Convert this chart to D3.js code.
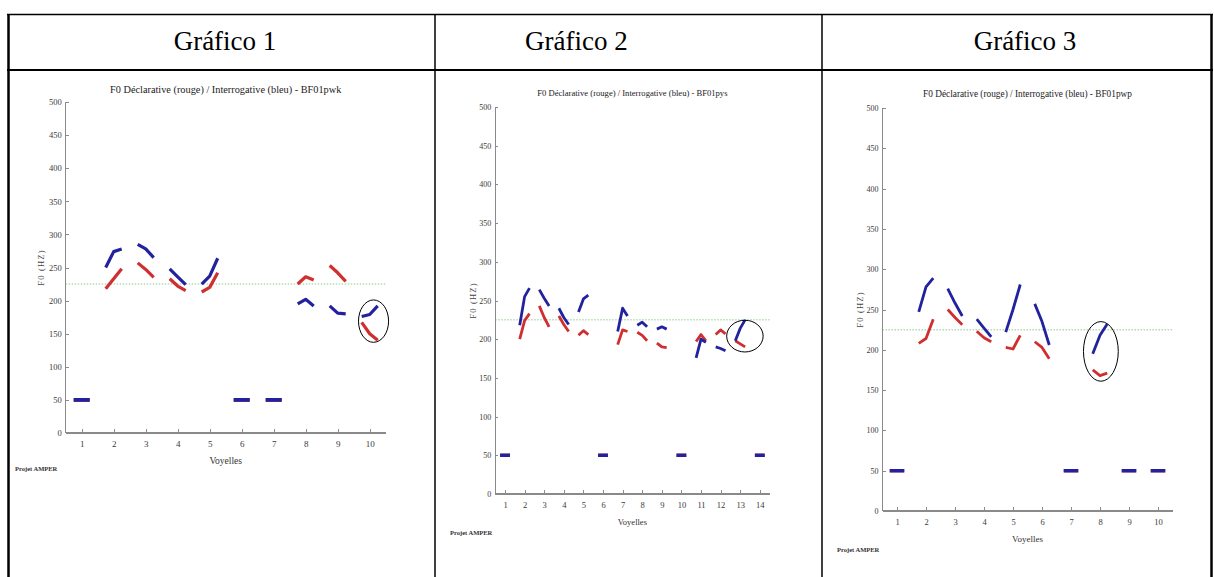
<!DOCTYPE html>
<html lang="fr">
<head>
<meta charset="utf-8">
<title>F0 Déclarative / Interrogative</title>
<script src="https://cdn.jsdelivr.net/npm/d3@7"></script>
<style>
  body { margin: 0; background: #fff; }
  svg text { font-family: "Liberation Serif", "Times New Roman", Times, "DejaVu Serif", serif; }
  .axis path, .axis line { stroke: #8a8a8a; shape-rendering: crispEdges; }
  .axis text { fill: #3a3a3a; }
</style>
</head>
<body>
<script>
var entetes = ["Gráfico 1", "Gráfico 2", "Gráfico 3"];
var titres = ["F0 Déclarative (rouge) / Interrogative (bleu) - BF01pwk",
              "F0 Déclarative (rouge) / Interrogative (bleu) - BF01pys",
              "F0 Déclarative (rouge) / Interrogative (bleu) - BF01pwp"];
var yTicks = [0, 50, 100, 150, 200, 250, 300, 350, 400, 450, 500];
var reference = 225;

var voyelles1 = [1, 2, 3, 4, 5, 6, 7, 8, 9, 10];
var rouge1 = [[50,50,50],[218,233,248],[257,247,235],[233,222,215],[213,220,242],
              [50,50,50],[50,50,50],[225,236,231],[253,242,229],[167,150,140]];
var bleu1  = [[50,50,50],[250,274,278],[285,278,265],[248,236,224],[225,237,264],
              [50,50,50],[50,50,50],[195,202,192],[192,181,180],[176,179,192]];
var cercle1 = [10.12, 169, 0.47, 32];

var voyelles2 = [1, 2, 3, 4, 5, 6, 7, 8, 9, 10, 11, 12, 13, 14];
var rouge2 = [[50,50,50],[200,224,233],[243,228,216],[230,219,210],[205,211,206],
              [50,50,50],[193,212,210],[209,205,198],[195,190,189],[50,50,50],
              [197,206,198],[206,212,207],[198,194,190],[50,50,50]];
var bleu2  = [[50,50,50],[218,255,266],[264,253,243],[240,228,219],[235,252,257],
              [50,50,50],[210,240,230],[218,222,216],[213,216,213],[50,50,50],
              [176,200,196],[190,188,185],[198,214,225],[50,50,50]];
var cercle2 = [13.24, 204, 0.93, 20.5];

var voyelles3 = [1, 2, 3, 4, 5, 6, 7, 8, 9, 10];
var rouge3 = [[50,50,50],[208,214,238],[250,240,231],[223,215,210],[203,201,218],
              [210,203,189],[50,50,50],[175,168,171],[50,50,50],[50,50,50]];
var bleu3  = [[50,50,50],[247,278,289],[276,258,242],[238,227,216],[222,250,281],
              [257,235,206],[50,50,50],[195,218,232],[50,50,50],[50,50,50]];
var cercle3 = [8.03, 198, 0.6, 37];

var offsets = [-0.25, 0, 0.25];

var w = 1214, h = 577;
var svg = d3.select("body").append("svg").attr("width", w).attr("height", h);

// tableau
var tab = svg.append("g").attr("stroke", "#000").attr("fill", "none");
tab.append("line").attr("x1", 7).attr("x2", 1213).attr("y1", 14.5).attr("y2", 14.5).attr("stroke-width", 1.5);
tab.append("line").attr("x1", 7).attr("x2", 1213).attr("y1", 70).attr("y2", 70).attr("stroke-width", 2);
[8.5, 435, 822, 1211.5].forEach(function(x, i) {
  tab.append("line").attr("x1", x).attr("x2", x).attr("y1", 14).attr("y2", h)
     .attr("stroke-width", (i == 0 || i == 3) ? 2.5 : 1.5);
});
var headX = [225, 525, 1025], headAnchor = ["middle", "start", "middle"];
entetes.forEach(function(t, i) {
  svg.append("text").attr("x", headX[i]).attr("y", 50).attr("text-anchor", headAnchor[i])
     .attr("font-size", 27).attr("fill", "#000").text(t);
});

var cfgs = [
  {x0: 65.7, x1: 385.7, yTop: 102, yBot: 433, title: 10.3, titleY: 93, tick: 8.5, xlab: 9.5, xlabY: 464,
   ylabX: 44, amperX: 15, amperY: 471, lw: 3.2, voy: voyelles1, rouge: rouge1, bleu: bleu1, cercle: cercle1},
  {x0: 495.2, x1: 769.6, yTop: 107, yBot: 494, title: 8.6, titleY: 96, tick: 8, xlab: 8.5, xlabY: 525,
   ylabX: 476, amperX: 450, amperY: 535, lw: 2.8, voy: voyelles2, rouge: rouge2, bleu: bleu2, cercle: cercle2},
  {x0: 882.5, x1: 1172.5, yTop: 108, yBot: 511, title: 9.3, titleY: 97, tick: 8, xlab: 9, xlabY: 542,
   ylabX: 863, amperX: 837, amperY: 552, lw: 2.8, voy: voyelles3, rouge: rouge3, bleu: bleu3, cercle: cercle3}
];

cfgs.forEach(function(c, k) {
  var n = c.voy.length;
  var xScale = d3.scaleLinear().domain([0.5, n + 0.5]).range([c.x0, c.x1]);
  var yScale = d3.scaleLinear().domain([0, 500]).range([c.yBot, c.yTop]);
  var g = svg.append("g");

  g.append("text").attr("x", (c.x0 + c.x1) / 2).attr("y", c.titleY).attr("text-anchor", "middle")
   .attr("font-size", c.title).attr("fill", "#222").text(titres[k]);

  // ligne de référence
  g.append("line").attr("x1", xScale(0.5)).attr("x2", xScale(n + 0.5))
   .attr("y1", yScale(reference)).attr("y2", yScale(reference))
   .attr("stroke", "#b5dcb5").attr("stroke-width", 1.5).attr("stroke-dasharray", "1.5,1.5");

  var yAxis = d3.axisLeft(yScale).tickValues(yTicks).tickSize(-3).tickPadding(4).tickFormat(d3.format("d"));
  var gy = g.append("g").attr("class", "axis").attr("transform", "translate(" + c.x0 + ",0)").call(yAxis)
   .attr("font-family", null);
  gy.select(".domain").attr("d", "M0," + c.yBot + "V" + c.yTop);
  gy.selectAll("text").attr("font-size", c.tick);

  var xAxis = d3.axisBottom(xScale).tickValues(c.voy).tickSize(-4).tickPadding(8);
  var gx = g.append("g").attr("class", "axis").attr("transform", "translate(0," + c.yBot + ")").call(xAxis)
   .attr("font-family", null);
  gx.select(".domain").attr("d", "M" + c.x0 + ",0H" + c.x1).attr("stroke-width", 1.5);
  gx.selectAll("text").attr("font-size", c.tick + 0.5);

  g.append("text").attr("x", (c.x0 + c.x1) / 2).attr("y", c.xlabY).attr("text-anchor", "middle")
   .attr("font-size", c.xlab).attr("fill", "#333").text("Voyelles");
  g.append("text").attr("transform", "translate(" + c.ylabX + "," + (c.yTop + c.yBot) / 2 + ") rotate(-90)")
   .attr("text-anchor", "middle").attr("font-size", 8.5).attr("letter-spacing", 1.2)
   .attr("fill", "#444").text("F0 (HZ)");
  g.append("text").attr("x", c.amperX).attr("y", c.amperY).attr("font-size", 6.5)
   .attr("font-weight", "bold").attr("fill", "#333").text("Projet AMPER");

  var line = d3.line().x(function(d) { return xScale(d[0]); }).y(function(d) { return yScale(d[1]); });
  function pts(t, i) { return t.map(function(v, j) { return [i + 1 + offsets[j], v]; }); }

  [[c.rouge, "#cf2f2f"], [c.bleu, "#22229e"]].forEach(function(s) {
    g.append("g").selectAll("path").data(s[0]).enter().append("path")
     .attr("d", function(d, i) { return line(pts(d, i)); })
     .attr("fill", "none").attr("stroke", s[1])
     .attr("stroke-width", function(d) { return d[0] == 50 ? c.lw + 0.6 : c.lw; })
     .attr("stroke-linejoin", "round");
  });

  // cercle d'annotation
  g.append("ellipse").attr("cx", xScale(c.cercle[0])).attr("cy", yScale(c.cercle[1]))
   .attr("rx", xScale(c.cercle[2]) - xScale(0)).attr("ry", yScale(0) - yScale(c.cercle[3]))
   .attr("fill", "none").attr("stroke", "#000").attr("stroke-width", 1);
});
</script>
</body>
</html>
